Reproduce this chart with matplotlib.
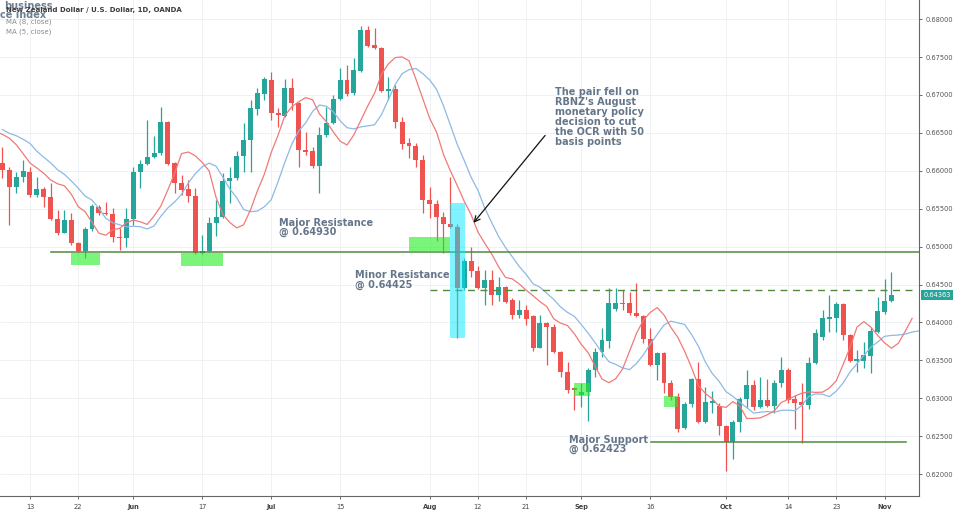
import numpy as np
import pandas as pd
import matplotlib
matplotlib.use("Agg")
import matplotlib.pyplot as plt
from matplotlib.patches import Rectangle

# NZD/USD daily bars, 7 May - 4 Nov 2019
dates = pd.bdate_range("2019-05-07", "2019-11-04")

opens = [0.66099, 0.66010, 0.65782, 0.65914, 0.65988, 0.65681, 0.65760, 0.65650, 0.65364, 0.65183,
         0.65351, 0.65051, 0.64946, 0.65228, 0.65526, 0.65439, 0.65426, 0.65131, 0.65109, 0.65364,
         0.65988, 0.66090, 0.66178, 0.66231, 0.66647, 0.66099, 0.65835, 0.65756, 0.65667, 0.64912,
         0.64946, 0.65307, 0.65386, 0.65865, 0.65901, 0.66195, 0.66406, 0.66811, 0.67013, 0.67197,
         0.66766, 0.66727, 0.67088, 0.66890, 0.66274, 0.66261, 0.66067, 0.66472, 0.66634, 0.66947,
         0.67197, 0.67022, 0.67320, 0.67857, 0.67659, 0.67616, 0.67056, 0.67075, 0.66647, 0.66363,
         0.66331, 0.66142, 0.65615, 0.65562, 0.65386, 0.65298, 0.65262, 0.64458, 0.64810, 0.64682,
         0.64458, 0.64559, 0.64362, 0.64471, 0.64296, 0.64098, 0.64164, 0.64085, 0.63667, 0.63988,
         0.63943, 0.63614, 0.63350, 0.63135, 0.63043, 0.63086, 0.63372, 0.63614, 0.63759, 0.64173,
         0.64260, 0.64252, 0.64128, 0.64085, 0.63777, 0.63438, 0.63593, 0.63197, 0.63012, 0.62603,
         0.62924, 0.63250, 0.62690, 0.62941, 0.62901, 0.62638, 0.62427, 0.62690, 0.62986, 0.63175,
         0.62888, 0.62977, 0.62901, 0.63197, 0.63372, 0.62986, 0.62950, 0.62915, 0.63469, 0.63812,
         0.64049, 0.64062, 0.64243, 0.63834, 0.63495, 0.63495, 0.63557, 0.63878, 0.64141, 0.64286]

highs = [0.66318, 0.66054, 0.65988, 0.66142, 0.66054, 0.65922, 0.65782, 0.65835, 0.65483, 0.65483,
         0.65439, 0.65065, 0.65262, 0.65562, 0.65549, 0.65592, 0.65505, 0.65241, 0.65505, 0.66054,
         0.66142, 0.66670, 0.66459, 0.66837, 0.66661, 0.66120, 0.65944, 0.65878, 0.65769, 0.65153,
         0.65386, 0.65615, 0.65967, 0.66054, 0.66261, 0.66626, 0.66934, 0.67088, 0.67241, 0.67307,
         0.66824, 0.67207, 0.67220, 0.66911, 0.66516, 0.66318, 0.66581, 0.66845, 0.67000, 0.67352,
         0.67395, 0.67484, 0.67910, 0.67910, 0.67879, 0.67629, 0.67233, 0.67131, 0.66713, 0.66428,
         0.66363, 0.66208, 0.65790, 0.65615, 0.65460, 0.65922, 0.65298, 0.64850, 0.64999, 0.64744,
         0.64691, 0.64691, 0.64603, 0.64474, 0.64318, 0.64296, 0.64230, 0.64098, 0.64098, 0.64010,
         0.63979, 0.63627, 0.63482, 0.63152, 0.63197, 0.63395, 0.63659, 0.63922, 0.64450, 0.64450,
         0.64428, 0.64405, 0.64516, 0.64098, 0.63922, 0.63614, 0.63614, 0.63240, 0.63065, 0.62954,
         0.63263, 0.63482, 0.63152, 0.63100, 0.62933, 0.62647, 0.62713, 0.63020, 0.63372, 0.63240,
         0.63284, 0.63250, 0.63240, 0.63548, 0.63395, 0.63043, 0.63205, 0.63548, 0.63909, 0.64164,
         0.64362, 0.64273, 0.64252, 0.63847, 0.63636, 0.63746, 0.63936, 0.64339, 0.64569, 0.64661]

lows = [0.65901, 0.65285, 0.65703, 0.65856, 0.65658, 0.65658, 0.65518, 0.65351, 0.65153, 0.65175,
        0.65021, 0.64933, 0.64846, 0.65210, 0.65417, 0.65417, 0.65065, 0.64955, 0.64991, 0.65285,
        0.65769, 0.66076, 0.66165, 0.66208, 0.66076, 0.65703, 0.65681, 0.65592, 0.64902, 0.64902,
        0.64933, 0.65140, 0.65373, 0.65571, 0.65878, 0.65988, 0.65988, 0.66736, 0.66934, 0.66670,
        0.66581, 0.66713, 0.66802, 0.66054, 0.66208, 0.66033, 0.65703, 0.66450, 0.66617, 0.66934,
        0.66986, 0.67000, 0.67307, 0.67637, 0.67602, 0.67043, 0.66934, 0.66560, 0.66283, 0.66165,
        0.66054, 0.65447, 0.65373, 0.65078, 0.64912, 0.65241, 0.63794, 0.64428, 0.64603, 0.64441,
        0.64230, 0.64230, 0.64286, 0.64260, 0.64041, 0.64054, 0.63966, 0.63627, 0.63659, 0.63438,
        0.63601, 0.63284, 0.63065, 0.62845, 0.62888, 0.62704, 0.63276, 0.63548, 0.63659, 0.64155,
        0.64164, 0.64098, 0.64075, 0.63725, 0.63425, 0.63240, 0.63065, 0.62977, 0.62559, 0.62590,
        0.62888, 0.62669, 0.62677, 0.62801, 0.62515, 0.62044, 0.62194, 0.62559, 0.62867, 0.62845,
        0.62867, 0.62888, 0.62801, 0.63152, 0.62933, 0.62590, 0.62413, 0.62854, 0.63452, 0.63768,
        0.63878, 0.63878, 0.63768, 0.63482, 0.63350, 0.63395, 0.63337, 0.63864, 0.64111, 0.64273]

closes = [0.66010, 0.65782, 0.65922, 0.65997, 0.65681, 0.65760, 0.65650, 0.65364, 0.65175, 0.65351,
          0.65051, 0.64946, 0.65228, 0.65536, 0.65439, 0.65426, 0.65123, 0.65113, 0.65364, 0.65988,
          0.66090, 0.66178, 0.66231, 0.66647, 0.66090, 0.65835, 0.65747, 0.65667, 0.64912, 0.64946,
          0.65315, 0.65394, 0.65869, 0.65901, 0.66195, 0.66406, 0.66824, 0.67022, 0.67207, 0.66766,
          0.66736, 0.67088, 0.66890, 0.66274, 0.66252, 0.66067, 0.66472, 0.66634, 0.66947, 0.67197,
          0.67013, 0.67329, 0.67857, 0.67650, 0.67616, 0.67056, 0.67075, 0.66647, 0.66353, 0.66327,
          0.66142, 0.65615, 0.65558, 0.65386, 0.65298, 0.65262, 0.64458, 0.64810, 0.64682, 0.64458,
          0.64559, 0.64362, 0.64471, 0.64273, 0.64098, 0.64164, 0.64041, 0.63659, 0.63988, 0.63943,
          0.63614, 0.63350, 0.63109, 0.63109, 0.63086, 0.63372, 0.63614, 0.63768, 0.64260, 0.64260,
          0.64243, 0.64128, 0.64085, 0.63777, 0.63438, 0.63593, 0.63197, 0.63012, 0.62590, 0.62924,
          0.63250, 0.62690, 0.62946, 0.62967, 0.62638, 0.62427, 0.62690, 0.62986, 0.63175, 0.62888,
          0.62977, 0.62901, 0.63197, 0.63372, 0.62977, 0.62941, 0.62915, 0.63469, 0.63856, 0.64054,
          0.64067, 0.64243, 0.63834, 0.63495, 0.63513, 0.63570, 0.63891, 0.64155, 0.64286, 0.64363]

# closes of the bars before the visible window (22 Apr - 6 May), only used by the MAs
warmup_close = [0.6665, 0.6660, 0.6650, 0.6645, 0.6660, 0.6655, 0.6660, 0.6640, 0.6625, 0.6635, 0.6612]

tick_dates = ["2019-05-13", "2019-05-22", "2019-06-03", "2019-06-17", "2019-07-01", "2019-07-15",
              "2019-08-01", "2019-08-12", "2019-08-21", "2019-09-02", "2019-09-16", "2019-10-01",
              "2019-10-14", "2019-10-23", "2019-11-01"]
tick_labels = ["13", "22", "Jun", "17", "Jul", "15", "Aug", "12", "21", "Sep", "16", "Oct", "14", "23", "Nov"]
month_labels = ["Jun", "Jul", "Aug", "Sep", "Oct", "Nov"]

price_ticks = [0.620, 0.625, 0.630, 0.635, 0.640, 0.645, 0.650, 0.655, 0.660, 0.665, 0.670, 0.675, 0.680]

major_resistance = 0.64930
minor_resistance = 0.64425
major_support = 0.62423

up_col = "#26a69a"
down_col = "#ef5350"
level_col = "#4f8a3c"
note_col = "#66768a"

fig = plt.figure(figsize=(9.54, 5.13), dpi=100)
ax = fig.add_axes([0.0, 17 / 513, 919 / 954, 496 / 513])

n = len(closes)
x = np.arange(n)

# candles
for i in range(n):
    o, h, l, c = opens[i], highs[i], lows[i], closes[i]
    col = up_col if c >= o else down_col
    ax.vlines(x[i], l, h, color=col, lw=0.9, zorder=2)
    body = max(abs(c - o), 0.00009)
    ax.bar(x[i], body, bottom=min(o, c), width=0.72, color=col, lw=0, zorder=2)

# moving averages (TradingView offset: MA5 +3 bars, MA8 +4 bars)
all_close = pd.Series(warmup_close + closes)
x_all = np.arange(-len(warmup_close), n)
ma5 = all_close.rolling(5).mean()
ma8 = all_close.rolling(8).mean()
ax.plot(x_all + 4, ma8, color="#8fb9e3", lw=0.9, zorder=3)
ax.plot(x_all + 3, ma5, color="#f07a78", lw=0.9, zorder=3)

# support / resistance levels
ax.plot([7.0, 134], [major_resistance] * 2, color=level_col, lw=1.1, zorder=3)
ax.plot([62.0, 132.0], [minor_resistance] * 2, color=level_col, lw=1.0, ls=(0, (5, 4)), zorder=3)
ax.plot([94.1, 131.1], [major_support] * 2, color=level_col, lw=1.1, zorder=3)

# highlight boxes
green_boxes = [(9.9, 14.1, 0.64757, 0.64920), (25.9, 32.0, 0.64750, 0.64920),
               (59.0, 65.0, 0.64933, 0.65123), (82.95, 85.2, 0.63033, 0.63197),
               (96.0, 98.1, 0.62888, 0.63033)]
for x0, x1, y0, y1 in green_boxes:
    ax.add_patch(Rectangle((x0, y0), x1 - x0, y1 - y0, facecolor="#22ee22", alpha=0.6,
                           lw=0, zorder=4))
ax.add_patch(Rectangle((64.96, 0.63791), 67.14 - 64.96, 0.65571 - 0.63791,
                       facecolor="#00e8ff", alpha=0.5, lw=0, zorder=4))

# annotations
txt = dict(color=note_col, fontsize=7.0, fontweight="bold", va="top", ha="left",
           linespacing=0.92, zorder=5)
ax.text(40.2, 0.6538, "Major Resistance\n@ 0.64930", **txt)
ax.text(51.2, 0.6469, "Minor Resistance\n@ 0.64425", **txt)
ax.text(82.2, 0.6252, "Major Support\n@ 0.62423", **txt)
ax.text(80.2, 0.6710, "The pair fell on\nRBNZ's August\nmonetary policy\ndecision to cut\n"
        "the OCR with 50\nbasis points", **dict(txt, linespacing=1.0))
ax.annotate("", xy=(68.1, 0.65285), xytext=(79.0, 0.66494),
            arrowprops=dict(arrowstyle="->", color="#111111", lw=0.9), zorder=5)

# header / legend text
ax.text(0.004, 1 - 9 / 496, "business", transform=ax.transAxes, fontsize=7, fontweight="bold",
        color="#6e7f90", va="baseline", ha="left", zorder=6)
ax.text(0.0, 1 - 18 / 496, "ce index", transform=ax.transAxes, fontsize=7, fontweight="bold",
        color="#6e7f90", va="baseline", ha="left", zorder=6)
ax.text(0.006, 0.979, "New Zealand Dollar / U.S. Dollar, 1D, OANDA", transform=ax.transAxes,
        fontsize=5.0, fontweight="bold", color="#3d3d3d", va="center", ha="left", zorder=7)
ax.text(0.006, 0.957, "MA (8, close)", transform=ax.transAxes, fontsize=5.0,
        color="#8a8a8a", va="center", ha="left", zorder=7)
ax.text(0.006, 0.936, "MA (5, close)", transform=ax.transAxes, fontsize=5.0,
        color="#8a8a8a", va="center", ha="left", zorder=7)

# last price tag
ax.annotate(f"{closes[-1]:.5f}", xy=(1.0, closes[-1]), xycoords=("axes fraction", "data"),
            xytext=(3, 0), textcoords="offset points", fontsize=4.8, color="white",
            va="center", ha="left", annotation_clip=False, zorder=8,
            bbox=dict(boxstyle="square,pad=0.35", fc=up_col, ec="none"))

# axes
pos = [dates.get_loc(pd.Timestamp(d)) for d in tick_dates]
ax.set_xticks(pos)
ax.set_xticklabels(tick_labels)
for lab in ax.get_xticklabels():
    if lab.get_text() in month_labels:
        lab.set_fontweight("bold")
ax.set_yticks(price_ticks)
ax.set_yticklabels([f"{p:.5f}" for p in price_ticks])
ax.yaxis.tick_right()
ax.tick_params(axis="both", labelsize=4.8, colors="#555555", length=2.5, width=0.6, pad=2)
ax.tick_params(axis="x", labelcolor="#444444", pad=3.5)
ax.grid(True, color="#edf0f4", lw=0.6, zorder=0)
ax.set_axisbelow(True)
for side in ["top", "left"]:
    ax.spines[side].set_visible(False)
for side in ["right", "bottom"]:
    ax.spines[side].set_color("#666666")
    ax.spines[side].set_linewidth(0.8)

ax.set_xlim(-0.35, 133.0)
ax.set_ylim(0.61711, 0.68252)

fig.savefig("out.png", dpi=100)
